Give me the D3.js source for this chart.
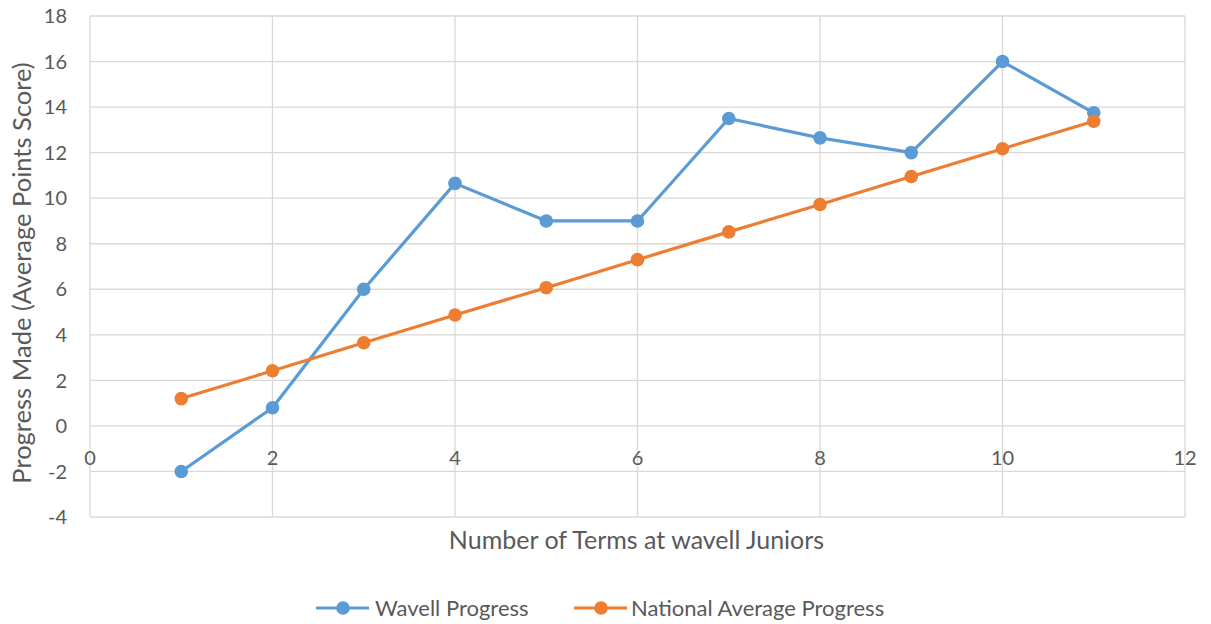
<!DOCTYPE html>
<html><head><meta charset="utf-8">
<script src="https://cdn.jsdelivr.net/npm/d3@7"></script>
<style>body{margin:0;background:#fff}svg{display:block}text{font-family:Lato,"Open Sans",sans-serif;fill:#595959}</style>
</head><body><svg id="c" width="1211" height="624"></svg>
<script>
const terms = [1,2,3,4,5,6,7,8,9,10,11];
const wavell = [-2,0.8,6,10.65,9,9,13.5,12.65,12,16,13.75];
const national = [1.2,2.42,3.65,4.87,6.07,7.3,8.52,9.72,10.95,12.17,13.38];
const xTicks = [0,2,4,6,8,10,12];
const yTicks = [-4,-2,0,2,4,6,8,10,12,14,16,18];
const seriesNames = ["Wavell Progress","National Average Progress"];
const colors = ["#5B9BD5","#ED7D31"];

const svg = d3.select("#c");
const L=90,R=1185,T=16,B=517;
const x = d3.scaleLinear().domain([0,12]).range([L,R]);
const y = d3.scaleLinear().domain([-4,18]).range([B,T]);
const grid = "#D9D9D9";

svg.append("g").selectAll("line").data(yTicks).join("line")
  .attr("x1",L).attr("x2",R).attr("y1",d=>y(d)).attr("y2",d=>y(d))
  .attr("stroke",grid).attr("stroke-width",1.3);
svg.append("g").selectAll("line").data(xTicks).join("line")
  .attr("x1",d=>x(d)).attr("x2",d=>x(d)).attr("y1",T).attr("y2",B)
  .attr("stroke",grid).attr("stroke-width",1.3);

svg.append("g").selectAll("text").data(yTicks).join("text")
  .attr("x",L-23).attr("y",d=>y(d)).attr("dy","0.36em").attr("text-anchor","end")
  .attr("font-size",20).text(d=>d);
svg.append("g").selectAll("text").data(xTicks).join("text")
  .attr("x",d=>x(d)).attr("y",y(0)+39).attr("text-anchor","middle")
  .attr("font-size",20).text(d=>d);

svg.append("text").attr("x",(L+R)/2-1).attr("y",549).attr("text-anchor","middle")
  .attr("font-size",25).text("Number of Terms at wavell Juniors");
svg.append("text").attr("transform",`translate(31,273) rotate(-90)`).attr("text-anchor","middle")
  .attr("font-size",25.5).text("Progress Made (Average Points Score)");

const data=[wavell,national];
const line = d3.line().x((d,i)=>x(terms[i])).y(d=>y(d));
data.forEach((s,k)=>{
  svg.append("path").datum(s).attr("d",line).attr("fill","none")
    .attr("stroke",colors[k]).attr("stroke-width",3.2).attr("stroke-linejoin","round");
  svg.append("g").selectAll("circle").data(s).join("circle")
    .attr("cx",(d,i)=>x(terms[i])).attr("cy",d=>y(d)).attr("r",6.8).attr("fill",colors[k]);
});

const leg=[{x0:316,t:375},{x0:574,t:631}];
leg.forEach((l,k)=>{
  const g=svg.append("g");
  g.append("line").attr("x1",l.x0).attr("x2",l.x0+53).attr("y1",608).attr("y2",608)
    .attr("stroke",colors[k]).attr("stroke-width",3.2);
  g.append("circle").attr("cx",l.x0+27).attr("cy",608).attr("r",6.8).attr("fill",colors[k]);
  g.append("text").attr("x",l.t).attr("y",608).attr("dy","0.36em").attr("font-size",22).text(seriesNames[k]);
});
</script></body></html>
